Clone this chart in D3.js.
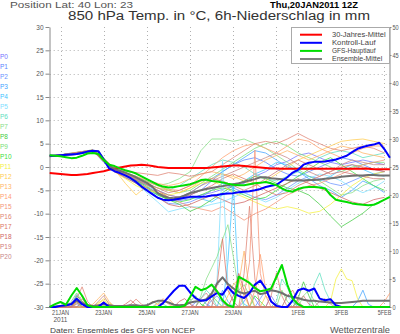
<!DOCTYPE html>
<html><head><meta charset="utf-8">
<script src="https://cdn.jsdelivr.net/npm/d3@7"></script>
<style>body{margin:0;background:#fff}svg{display:block}text{font-family:"Liberation Sans","DejaVu Sans",sans-serif}</style>
</head><body>
<svg id="c" width="400" height="334"></svg>
<script>
// ---------- data ----------
const memberNames = ["P0","P1","P2","P3","P4","P5","P6","P7","P8","P9","P10","P11","P12","P13","P14","P15","P16","P17","P18","P19","P20"];
const memberColors = ["#7474ff","#5a84ff","#6a94ff","#44a4ff","#40c4ff","#80e0ff","#60e0c0","#88e088","#44cc44","#78e078","#40e040","#f4f040","#ffcc50","#ffb464","#ffa070","#f49478","#e08474","#dc7464","#d06464","#d07878","#c88888"];

// 850 hPa temperature, members, every 12 h from 20 Jan 12Z
const tP0=[2.2,2.5,2.8,3.1,3.5,1.5,-0.8,-1.8,-3.0,-4.5,-5.5,-6.8,-7.2,-6.8,-6.0,-5.5,-4.8,-4.0,-3.5,-2.0,-1.0,0.5,1.2,2.5,3.0,2.0,1.0,0.5,1.0,1.5,1.0,0.5];
const tP1=[2.4,2.6,2.9,3.3,3.6,1.8,-0.5,-1.5,-2.5,-3.8,-5.0,-6.0,-6.5,-6.0,-5.0,-3.0,-1.0,0.5,1.5,2.0,1.0,-0.5,-1.5,-2.0,-1.0,0.0,1.0,2.0,1.5,0.5,-0.5,-1.0];
const tP2=[2.3,2.5,2.7,3.2,3.4,1.2,-1.0,-2.0,-3.5,-5.0,-6.5,-7.8,-8.0,-7.5,-6.5,-5.0,-3.5,-4.5,-5.5,-6.5,-7.0,-6.0,-4.5,-3.0,-2.0,-2.5,-3.5,-4.0,-3.0,-2.0,-1.5,-1.0];
const tP3=[2.2,2.4,2.8,3.0,3.5,1.0,-0.8,-2.2,-3.2,-4.8,-6.0,-7.0,-6.5,-5.5,-4.0,-2.5,-1.0,0.5,2.0,3.5,3.0,1.5,0.0,-1.0,-2.5,-4.0,-5.0,-6.5,-5.0,-3.0,-4.0,-5.5];
const tP4=[2.4,2.6,3.0,3.3,3.7,1.6,-0.6,-1.6,-2.8,-4.0,-5.5,-6.5,-7.0,-6.5,-6.8,-7.5,-6.0,-4.5,-3.0,-1.5,-0.5,1.0,0.5,-1.0,-2.0,-3.0,-2.0,-0.5,0.5,-0.5,-1.5,-2.0];
const tP5=[2.3,2.5,2.9,3.2,3.6,1.4,-0.9,-2.0,-3.5,-5.5,-7.5,-9.6,-9.0,-8.5,-8.6,-8.0,-7.5,-6.5,-5.5,-6.5,-7.5,-6.5,-5.0,-3.5,-2.5,-1.5,-2.0,-3.0,-4.5,-5.5,-4.5,-3.0];
const tP6=[2.2,2.5,2.8,3.1,3.4,1.3,-0.7,-1.8,-2.6,-3.5,-4.5,-5.0,-4.0,-2.5,-1.0,0.5,1.5,1.0,0.0,-1.5,-2.5,-3.0,-2.0,-1.0,0.5,2.0,3.0,3.5,3.0,2.0,2.5,3.0];
const tP7=[2.3,2.6,2.9,3.2,3.5,1.7,-0.4,-1.4,-2.2,-3.0,-4.0,-3.5,-2.5,-1.0,3.5,6.0,6.0,5.5,6.0,5.0,4.0,2.5,1.0,-0.5,-2.0,-3.0,-4.5,-6.0,-5.5,-4.0,-3.0,-2.5];
const tP8=[2.3,2.5,2.8,3.2,3.5,1.5,-0.6,-1.6,-2.8,-4.2,-5.8,-7.0,-8.0,-9.5,-8.5,-7.0,-5.5,-4.0,-3.0,-2.0,-2.5,-3.5,-4.5,-5.0,-6.0,-8.0,-10.5,-12.8,-11.4,-9.9,-8.0,-7.0];
const tP9=[2.4,2.6,2.9,3.3,3.6,1.9,-0.3,-1.2,-2.0,-3.0,-4.0,-5.0,-5.5,-5.0,-3.5,-2.0,-0.5,1.0,2.5,4.0,5.0,5.5,4.5,3.0,2.0,1.0,0.0,-1.0,0.0,0.5,1.0,1.0];
const tP10=[2.3,2.5,2.8,3.1,3.5,1.4,-0.8,-1.9,-3.0,-4.5,-6.0,-7.0,-7.5,-7.0,-6.0,-5.0,-4.5,-5.0,-6.0,-7.0,-6.5,-5.0,-3.5,-2.0,-0.5,1.0,2.0,0.5,-1.0,-2.5,-4.0,-5.0];
const tP11=[2.2,2.5,2.7,3.1,3.4,1.2,-1.0,-2.5,-4.0,-5.0,-5.5,-6.0,-5.5,-4.5,-3.5,-3.0,-4.0,-5.5,-6.5,-7.5,-8.5,-9.0,-8.5,-9.0,-9.9,-9.5,-8.0,-6.0,-4.0,-2.5,-1.5,-1.0];
const tP12=[2.3,2.6,2.9,3.3,3.7,1.6,-0.5,-3.5,-6.0,-4.0,-4.5,-5.0,-5.5,-4.5,-3.0,-2.5,-1.5,-2.0,-3.0,-4.0,-3.0,-1.5,0.0,1.5,2.5,3.5,4.5,5.5,5.8,6.0,5.5,5.0];
const tP13=[2.4,2.6,3.0,3.3,3.6,1.7,-0.4,-1.3,-2.0,-2.8,-3.5,-4.0,-3.5,-2.5,-1.5,-1.0,-1.5,-2.5,-1.5,0.0,1.5,2.5,3.5,2.5,1.5,2.5,3.5,4.5,4.0,3.0,2.5,2.0];
const tP14=[2.3,2.5,2.8,3.2,3.5,1.5,-0.6,-1.5,-2.4,-3.2,-4.0,-4.8,-5.0,-4.0,-2.0,0.0,2.0,3.5,4.5,5.0,4.0,3.0,4.5,6.0,5.5,4.0,3.0,2.0,3.0,4.0,4.5,4.5];
const tP15=[2.2,2.4,2.7,3.0,3.4,1.3,-0.9,-2.0,-3.2,-4.5,-5.5,-6.5,-7.5,-8.5,-9.0,-9.5,-8.5,-9.9,-11.4,-10.0,-9.0,-7.5,-6.0,-5.0,-4.0,-3.5,-2.5,-1.5,-0.5,0.5,1.0,1.5];
const tP16=[2.3,2.5,2.8,3.2,3.6,1.8,-0.2,-0.9,-1.2,-1.5,-1.8,-1.2,-1.5,-2.0,-1.5,-1.0,0.5,2.0,3.5,5.0,5.5,5.0,6.0,7.2,6.0,5.0,4.0,3.5,4.0,4.5,4.0,3.0];
const tP17=[2.4,2.6,2.9,3.2,3.5,1.4,-0.7,-1.7,-2.8,-3.8,-5.0,-6.5,-7.0,-6.0,-5.0,-4.0,-2.5,-1.5,-2.5,-3.5,-5.0,-6.0,-5.5,-4.0,-3.0,-2.0,-1.0,0.0,0.5,0.0,-0.5,-1.0];
const tP18=[2.3,2.5,2.8,3.1,3.5,1.1,-1.0,-2.3,-3.5,-5.0,-6.5,-8.0,-8.5,-8.0,-7.0,-6.0,-7.0,-8.0,-7.5,-6.5,-5.5,-4.5,-3.5,-2.5,-3.5,-4.5,-5.5,-6.5,-7.5,-8.0,-7.0,-6.5];
const tP19=[2.2,2.5,2.8,3.2,3.6,1.6,-0.5,-1.5,-2.5,-3.5,-4.5,-5.5,-5.0,-4.0,-3.0,-2.5,-3.0,-4.0,-5.0,-4.0,-2.5,-1.0,0.5,1.5,0.5,-0.5,-1.5,-1.0,-1.5,-2.0,-2.5,-2.5];
const tP20=[2.3,2.6,2.9,3.3,3.6,1.5,-0.6,-1.6,-2.7,-3.8,-5.0,-6.0,-6.5,-5.5,-4.0,-3.0,-2.0,-1.0,0.0,1.0,2.0,3.0,2.0,0.5,-1.0,-2.0,-1.0,0.5,1.5,1.0,0.5,0.5];

// 6h precipitation (mm), members, every 6 h from 20 Jan 12Z
const rP0=[0,0,0,0,0.5,2.2,0.8,0, 0,0,0,0,0,0,0,0, 0,0,0,0,0,0,0,0, 0,0,0,0,0,0,0,0, 0,0,0,0,1.0,2.5,1.5,0, 0,2.0,0.5,0,0,0,0,0, 0,0,0,0,0,0,0,0, 0,0,0,0,0,0,0,0];
const rP1=[0,0,0,0,0,1.0,0,0, 0,0,0,0,0,0,0,0, 0,0,0,0,0,0,0,0, 0,0,0,0.8,1.5,0.5,0,0, 0,0,0,0,0,0,0,0, 0,0,0,0,0,1.0,0.3,0, 0,0,0,0,0,0,0,0, 0,0,0,0,0,0,0,0];
const rP2=[0,0,0,0,0,0.6,0,0, 0,0,0,0,0,0,0,0, 0,0,0,0,0,0,0,0, 0,0,0,0,0,0,1.2,2.0, 0.8,0,0,0,0,0,0,1.5, 3.0,1.0,0,0,0,0,0,0, 0,0,0,0,0,0,0,0, 0,0,0,0,0,0,0,0];
const rP3=[0,0,0,0,0,0.8,0,0, 0,0,0,0,0,0,0,0, 0,0,0,0,0,0,0,0, 0,0,0,0,0,0,0,0, 3.0,1.0,0,0,0,0,0,0, 0,0,0,0,0,0,0,0, 0,0,0,0,0,0,0,0, 0,1.0,3.0,0.5,0,0,0,0];
const rP4=[0,0,0,0,0,0,0.8,0, 0,0,0,0,0,0,0,0, 0,0,0,0,0,0,0,0, 0,0,0,0,0,0,0,0, 0,8.0,22.0,3.0,0.5,0,0,0, 0,0,0,0,0,0,0,0, 0,0,0,0,0,0,0,0, 0,0,0,0,0,0,0,0];
const rP5=[0,0,0,0,0,1.2,0,0, 0,0,0,0,0,0,0,0, 0,0,0,0,0,0,0,0, 0,0,0,0,0,0,0,5.0, 26.0,4.0,1.0,0,0,0,0,0, 0,0,0,0,2.0,0.8,0,0, 0,0,0,0,0,0,0,0, 0,0,0,0,0,0,0,0];
const rP6=[0,0,0,0,0,0,0,0, 0,0,0,0,0,0,0,0, 0,0,0,0,0.8,0.5,0,0, 0,0,0,0,1.5,3.0,2.0,0, 0,0,0,0,0,0,0,0, 0,0,1.0,5.0,3.5,1.0,0,0, 0,4.0,6.1,3.0,1.0,0,0,0, 0,0,0,0,0,0,0,0];
const rP7=[0,0,0,0,0,0,0,0, 0,0,0,0,0,0,0,0, 0,0,0,0,0,0,0,0, 0,0,0,0,2.0,5.0,7.0,9.0, 12.0,14.7,9.0,3.0,0,0,0,0, 0,0,0,0,0,0,0,2.0, 3.0,1.0,0,0,0,0,0,0, 0,0,0,0,0,0,0,0];
const rP8=[0,0,0,0,0,2.0,1.0,0, 0,0,0,0,0,0,0,0, 0,0,0,0,0,0,0,0, 0,0,1.0,2.0,0.5,0,0,0, 0,0,0,0,0,0,0,0, 0,0,0,0,0,0,1.5,4.5, 2.0,0,0,0,0,0,0,0, 0,0,0,0,0,0,0,0];
const rP9=[0,0,0,0,1.0,2.5,1.0,0, 0,0,0,0,0,0,0,0, 0,0,0,0,0,0,0,0, 0,0,0,0,0,0,0,0, 0,0,0,3.0,4.0,2.0,0,0, 0,0,0,3.0,1.0,0,0,0, 0,0,0,0,0,0,0,0, 0,0,0,0,0,0,0,0];
const rP10=[0,0,0,0,0,1.5,0,0, 0,0,0,0,0,0,0,0, 0,0,0,0,0,0,0,0, 0,0,0,0,0,1.0,2.0,1.0, 0,0,0,0,0,0,2.0,1.0, 0,0,0,0,0,0,0,0, 0,0,0,0,0,0,0,0, 0,0,0,0,0,0,0,0];
const rP11=[0,0,0,0,0,0.8,0,0, 0,0.8,1.2,0.5,0,0,0,0, 0,0,0,0,0,0,0,0, 0,0,0,0,0,0,0,0, 0,0,0,0,0,0,0,0, 0,0,0,0,0,0,0,0, 0,0,0,0,1.0,5.0,6.8,5.0, 4.7,1.5,0,0,0,0,0,0];
const rP12=[0,0,0,0,0,0,0,0, 0,0.5,1.5,0.8,0,0,0,0, 0,0,0,1.0,0.5,0,0,0, 0,0,0,0,0,0,0,0, 0,2.0,4.0,5.0,2.0,0,0,0, 2.0,1.0,0,0,0,0,0,0, 0,0,0,0,0,0,0,0, 0,0,0,0,0,0,0,0];
const rP13=[0,0,0,0,0,0,0,0, 0.5,1.5,2.5,1.0,0,0,0,0, 0,0,0,0,0,1.0,1.5,0.5, 0,0,0,0,0,0,0,0, 0,0,0,4.0,10.0,3.0,0,0, 0,0,0,0,0,0,0,0, 0,0,0,0,0,0,0,0, 0,0,0,0,0,0,0,0];
const rP14=[0,0,0,0,0,0,0,0, 0,0,1.0,0,0,0,0,0, 0,0,0,0,0.5,1.5,0.5,0, 0,0,0,0,0,0,0,0, 0,0,0,0,0,0,3.0,9.4, 3.0,1.0,0,0,0,0,0,0, 0,0,0,0,0,0,0,0, 0,0,0,0,0,0,1.0,2.5];
const rP15=[0,0,0,0,0,1.0,2.0,0.5, 0,0,0,0,0,0,0,0, 0,0,0,0,0,0,0,0, 0,0,0,0,0,0,0,0, 0,0,0,0,2.0,8.0,28.0,6.0, 2.0,0,0,0,0,0,0,0, 0,0,0,0,0,0,0,0, 0,0,0,0,0,0,0,0];
const rP16=[0,0,0,0,0,1.5,3.6,1.0, 0,0,0,0,0,0,0,0.5, 1.4,0.5,0,0,0,0,0,0, 0,0,0,0,0,0,0,0, 0,0,0,0,6.0,18.0,5.0,0, 0,2.0,6.1,2.0,0,0,0,0, 0,0,0,0,0,0,0,0, 0,0,0,0,0,0,0,0];
const rP17=[0,0,0,0,0,1.0,0,0, 0,0,0,0,0,0,0,0, 0,0,0,0,0,0,0,0, 0,0,0,0,0,0,0,4.0, 12.2,3.0,1.0,0,0,0,0,0, 0,0,0,0,2.0,3.0,1.0,0, 0,0,0,0,0,0,0,0, 0,0,0,0,0,0,0,0];
const rP18=[0,0,0,0,0,0,1.0,0, 0,0,0,0,0,0,0.5,1.2, 0.4,0,0,0,0,0,0,0, 1.0,1.5,0.5,0,0,0,0,0, 0,0,2.0,6.0,3.0,0,0,0, 0,0,0,0,0,0,0,0, 0,0,0,0,0,0,0,0, 0,0,0,0,0,0,0,0];
const rP19=[0,0,0,0,0,0.5,1.5,0, 0,0,0,0,0,0,0,0, 0,0,0,0,0,0,0,0, 0,0,0,0,0,0,2.0,3.0, 1.0,0,0,0,0,0,0,0, 0,0,0,0,0,0,1.0,2.0, 0.5,0,0,0,0,0,0,0, 0,0,0,0,0,0,0,0];
const rP20=[0,0,0,0,0,0,0,0, 0,1.0,2.0,0.5,0,0,0,0, 0,0,0,0,0,0,0,0, 0,0,0,0,1.5,2.5,1.0,0, 0,0,0,0,0,0,0,0, 0,0,0,0,0,0,0,0, 0,0,1.0,1.5,0.5,0,0,0, 0,0,0,0,0,0,0,0];

// thick lines, every 6 h from 20 Jan 12Z
const climTemp=[-1.3,-1.4,-1.5,-1.6,-1.7,-1.7,-1.6,-1.5, -1.3,-1.1,-0.9,-0.6,-0.3,-0.1,0.1,0.3, 0.4,0.5,0.4,0.2,0.0,-0.1,-0.2,-0.2, -0.2,-0.2,-0.2,-0.2,-0.2,-0.2,-0.1,0.0, 0.1,0.2,0.3,0.3,0.2,0.1,0.0,-0.1, -0.2,-0.3,-0.3,-0.4,-0.4,-0.4,-0.4,-0.4, -0.4,-0.4,-0.4,-0.4,-0.4,-0.4,-0.4,-0.4, -0.4,-0.4,-0.4,-0.4,-0.5,-0.5,-0.5,-0.5];
const ctrlTemp=[2.4,2.4,2.5,2.6,2.7,2.8,3.0,3.3, 3.5,3.4,1.6,-0.3,-0.9,-1.3,-1.8,-2.4, -3.2,-4.2,-5.0,-5.8,-6.6,-7.0,-7.1,-7.0, -6.8,-6.6,-6.4,-6.4,-6.4,-6.3,-6.1,-6.0, -5.8,-5.7,-5.6,-5.4,-5.3,-5.2,-5.0,-4.7, -4.3,-4.0,-3.8,-3.0,-2.2,-1.2,-0.6,0.5, 0.9,1.1,1.1,1.2,1.4,1.6,2.0,2.4, 3.2,3.9,4.3,4.6,4.8,5.2,3.8,2.0];
const gfsTemp=[2.5,2.4,2.3,2.1,1.9,2.0,2.4,2.9, 3.0,2.8,1.5,0.5,0.2,-0.3,-0.7,-1.0, -1.4,-2.0,-2.6,-3.2,-3.8,-4.2,-4.4,-4.3, -4.1,-3.9,-3.7,-3.3,-2.8,-2.7,-3.0,-3.1, -3.3,-3.6,-3.8,-3.9,-3.9,-3.7,-3.5,-3.4, -3.2,-3.5,-3.9,-4.6,-5.1,-5.3,-4.7,-4.4, -4.3,-4.3,-4.4,-4.6,-6.0,-7.0,-7.3,-7.5, -7.8,-8.0,-8.1,-8.2,-8.1,-7.6,-7.0,-6.4];
const meanTemp=[2.4,2.4,2.5,2.6,2.7,2.8,3.0,3.2, 3.4,3.3,1.7,0.2,-0.4,-0.8,-1.2,-1.7, -2.2,-2.8,-3.4,-4.2,-5.6,-6.2,-6.6,-6.7, -6.5,-6.1,-5.6,-5.3,-5.0,-4.7,-4.5,-4.3, -4.1,-3.9,-3.7,-3.5,-3.2,-2.9,-2.6,-2.2, -2.2,-2.4,-2.5,-2.6,-2.8,-2.9,-2.9,-2.9, -2.8,-2.8,-2.7,-2.5,-2.4,-2.3,-2.1,-2.0, -1.9,-1.8,-1.8,-1.7,-1.7,-1.8,-1.8,-1.8];
const ctrlPrec=[0,0,0.2,0.3,0.5,1.5,0.5,0, 0,0,0.8,0,0,0,0,0, 0,0,0,0,0,0.7,1.8,2.9, 3.8,3.8,2.6,1.6,1.1,1.2,1.9,2.5, 2.2,3.6,2.5,2.0,1.6,2.5,4.0,4.7, 3.3,1.0,0.2,0,0,1.2,3.0,3.3, 2.9,3.3,1.5,1.2,1.4,0.3,0,0, 0,0,0,0,0,0,0,0];
const gfsPrec=[0,0.5,0.9,0.4,2.0,3.4,2.0,0.3, 0,0,0,0,0,0,0,0, 0,0,0,0,0,0,0,0, 0,0.2,1.8,3.6,3.0,3.3,4.0,2.8, 1.2,0.3,0,5.4,4.9,4.3,3.4,2.8, 3.0,3.3,5.4,7.5,4.0,1.5,0.5,0, 0,0,0,0,0,0,0,0, 0,0,0,0,0,0,0,0];
const meanPrec=[0,0.1,0.2,0.3,0.6,1.1,0.7,0.3, 0.2,0.3,0.5,0.3,0.2,0.2,0.2,0.3, 0.3,0.2,0.3,0.8,1.1,1.1,0.8,0.4, 0.3,0.4,0.8,1.0,1.1,1.4,2.4,4.2, 5.3,4.1,3.3,2.7,2.4,2.7,2.9,2.3, 2.5,3.0,2.8,2.5,2.0,1.8,1.6,1.3, 1.1,1.1,1.0,0.9,0.8,0.7,0.7,0.8, 0.9,1.0,1.1,1.1,1.1,1.1,1.1,1.1];

const tempTicks=[-30,-25,-20,-15,-10,-5,0,5,10,15,20,25,30];
const precTicks=[0,5,10,15,20,25,30,35,40,45,50];
const xTickDays=["2011-01-21","2011-01-23","2011-01-25","2011-01-27","2011-01-29","2011-02-01","2011-02-03","2011-02-05"];
const xTickLabels=["21JAN","23JAN","25JAN","27JAN","29JAN","1FEB","3FEB","5FEB"];
const xGridDays=["2011-01-21","2011-01-23","2011-01-25","2011-01-27","2011-01-29","2011-01-31","2011-02-01","2011-02-03","2011-02-05"];
const legendNames=["30-Jahres-Mittel","Kontroll-Lauf","GFS-Hauptlauf","Ensemble-Mittel"];
const legendColors=["#ff0000","#0000ff","#00dd00","#808080"];

const memberTemps=[tP0,tP1,tP2,tP3,tP4,tP5,tP6,tP7,tP8,tP9,tP10,tP11,tP12,tP13,tP14,tP15,tP16,tP17,tP18,tP19,tP20];
const memberPrecs=[rP0,rP1,rP2,rP3,rP4,rP5,rP6,rP7,rP8,rP9,rP10,rP11,rP12,rP13,rP14,rP15,rP16,rP17,rP18,rP19,rP20];

// ---------- drawing ----------
const svg=d3.select("#c");
const T0=Date.UTC(2011,0,20,12), HR=3600e3;
const x=d3.scaleUtc().domain([new Date(T0),new Date(T0+378*HR)]).range([49.7,389.9]);
const yT=d3.scaleLinear().domain([-30,30]).range([307,27]);
const yP=d3.scaleLinear().domain([0,50]).range([307,27]);
const day=s=>new Date(s+"T00:00:00Z");
const lineT=step=>d3.line().x((d,i)=>x(new Date(T0+i*step*HR))).y(d=>yT(d));
const lineP=step=>d3.line().x((d,i)=>x(new Date(T0+i*step*HR))).y(d=>yP(d));
const [X0,X1]=x.range();

// grid
const grid=svg.append("g").attr("stroke","#b0b0b0").attr("stroke-width",1).attr("stroke-dasharray","1,3");
grid.selectAll(".h").data(tempTicks.filter(v=>v>-30&&v<30)).join("line")
  .attr("x1",X0).attr("x2",X1).attr("y1",d=>Math.round(yT(d))+0.5).attr("y2",d=>Math.round(yT(d))+0.5);
grid.selectAll(".v").data(xGridDays).join("line")
  .attr("x1",d=>Math.round(x(day(d)))+0.5).attr("x2",d=>Math.round(x(day(d)))+0.5).attr("y1",27).attr("y2",307);

// axes
const axL=svg.append("g").attr("transform","translate(49.5,0)")
  .call(d3.axisLeft(yT).tickValues(tempTicks).tickSize(4).tickSizeOuter(0).tickPadding(2).tickFormat(d=>String(d)));
const axR=svg.append("g").attr("transform","translate(389.5,0)")
  .call(d3.axisRight(yP).tickValues(precTicks).tickSize(2).tickSizeOuter(0).tickPadding(1).tickFormat(d=>String(d)));
[axL,axR].forEach(a=>{a.select(".domain").attr("stroke","#888");a.selectAll(".tick line").attr("stroke","#888");
  a.selectAll("text").attr("font-size",6.5).attr("fill","#555").attr("font-family","Liberation Sans, sans-serif");});
axR.selectAll("text").attr("textLength",d=>String(d).length*3.1).attr("lengthAdjust","spacingAndGlyphs");
svg.append("line").attr("x1",X0).attr("x2",X1).attr("y1",307.5).attr("y2",307.5).attr("stroke","#888");

const xl=svg.append("g").attr("font-size",6.5).attr("fill","#555").attr("text-anchor","middle");
xl.selectAll("text").data(xTickDays).join("text")
  .attr("x",d=>x(day(d))).attr("y",315)
  .attr("textLength",(d,i)=>xTickLabels[i].length*3.4).attr("lengthAdjust","spacingAndGlyphs")
  .text((d,i)=>xTickLabels[i]);
xl.append("text").attr("x",x(day(xTickDays[0]))).attr("y",322).text("2011");

// member lines
const gm=svg.append("g").attr("fill","none").attr("stroke-width",0.9).attr("stroke-opacity",0.85);
memberTemps.forEach((s,k)=>gm.append("path").attr("d",lineT(12)(s)).attr("stroke",memberColors[k]));
memberPrecs.forEach((s,k)=>gm.append("path").attr("d",lineP(6)(s)).attr("stroke",memberColors[k]));

// thick lines
const gt=svg.append("g").attr("fill","none").attr("stroke-width",2).attr("stroke-linejoin","round");
gt.append("path").attr("d",lineT(6)(climTemp)).attr("stroke","#ff0000");
gt.append("path").attr("d",lineT(6)(meanTemp)).attr("stroke","#707070");
gt.append("path").attr("d",lineP(6)(meanPrec)).attr("stroke","#707070");
gt.append("path").attr("d",lineT(6)(ctrlTemp)).attr("stroke","#0000ff");
gt.append("path").attr("d",lineP(6)(ctrlPrec)).attr("stroke","#0000ff");
gt.append("path").attr("d",lineT(6)(gfsTemp)).attr("stroke","#00dd00");
gt.append("path").attr("d",lineP(6)(gfsPrec)).attr("stroke","#00dd00");

// legend
const lg=svg.append("g");
lg.append("rect").attr("x",291.5).attr("y",27.5).attr("width",98).attr("height",36).attr("fill","#fff").attr("stroke","#aaa");
legendNames.forEach((n,i)=>{
  const yy=34.7+i*8.1;
  lg.append("line").attr("x1",300).attr("x2",322).attr("y1",yy).attr("y2",yy).attr("stroke",legendColors[i]).attr("stroke-width",2);
  lg.append("text").attr("x",332).attr("y",yy+2.3).attr("font-size",6.5).attr("fill","#444")
    .attr("textLength",n.length*3.35).attr("lengthAdjust","spacingAndGlyphs").text(n);
});

// member labels
svg.append("g").attr("font-size",6.5).selectAll("text").data(memberNames).join("text")
  .attr("x",0).attr("y",(d,i)=>59+i*10).attr("fill",(d,i)=>memberColors[i]).text(d=>d);

// titles
svg.append("text").attr("x",10).attr("y",8).attr("font-size",9).attr("fill","#555")
  .attr("textLength",123).attr("lengthAdjust","spacingAndGlyphs").text("Position  Lat: 40 Lon: 23");
svg.append("text").attr("x",270).attr("y",8).attr("font-size",9).attr("font-weight","bold").attr("fill","#000")
  .attr("textLength",88).attr("lengthAdjust","spacingAndGlyphs").text("Thu,20JAN2011  12Z");
svg.append("text").attr("x",68).attr("y",19.5).attr("font-size",12).attr("fill","#333")
  .attr("textLength",302).attr("lengthAdjust","spacingAndGlyphs").text("850 hPa Temp. in °C, 6h-Niederschlag in mm");
svg.append("text").attr("x",50).attr("y",333).attr("font-size",8).attr("fill","#444")
  .attr("textLength",145).attr("lengthAdjust","spacingAndGlyphs").text("Daten: Ensembles des GFS von NCEP");
svg.append("text").attr("x",330).attr("y",333).attr("font-size",9.5).attr("fill","#555")
  .attr("textLength",60).attr("lengthAdjust","spacingAndGlyphs").text("Wetterzentrale");
</script>
</body></html>
